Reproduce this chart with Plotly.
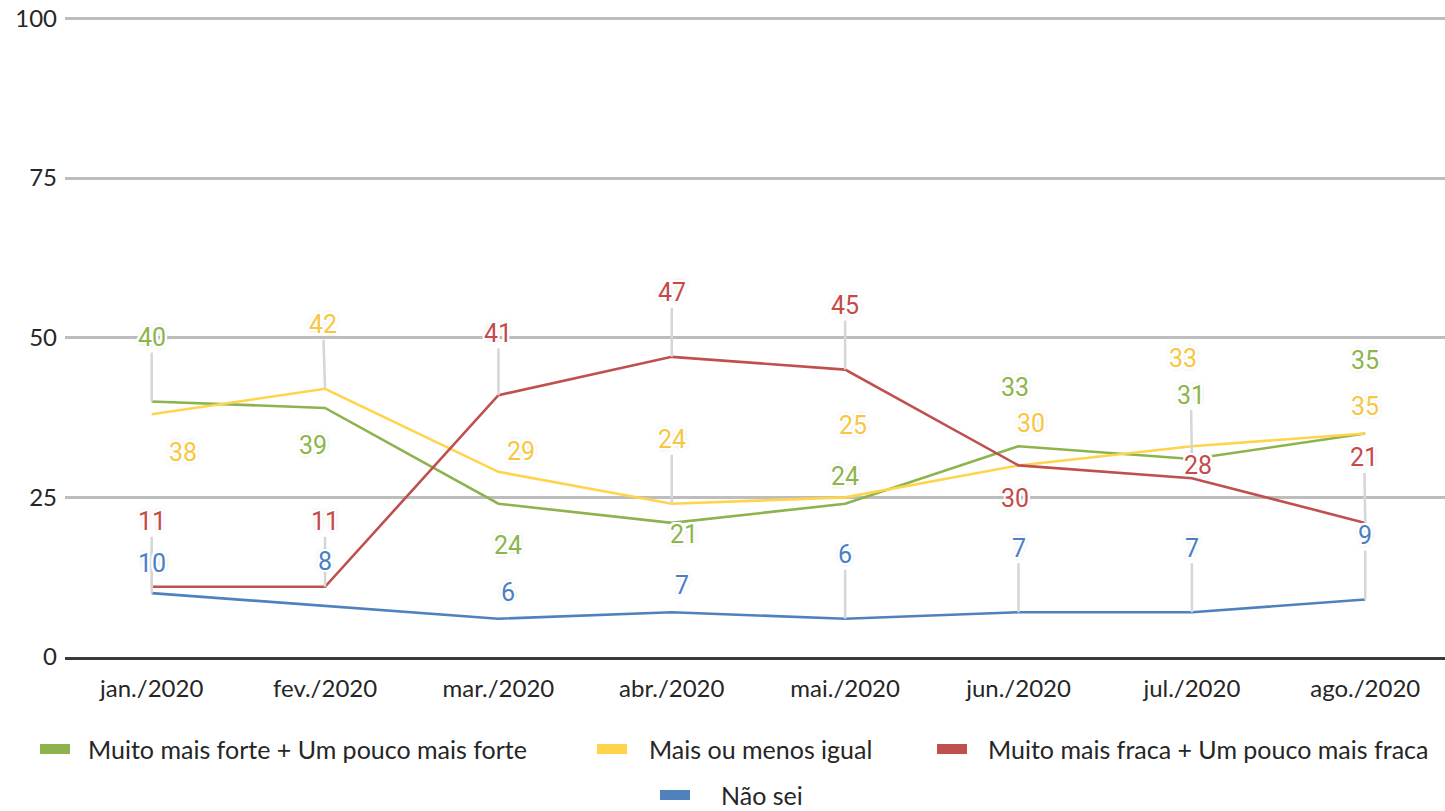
import plotly.graph_objects as go

# ---------------- data ----------------
months = ["jan./2020", "fev./2020", "mar./2020", "abr./2020",
          "mai./2020", "jun./2020", "jul./2020", "ago./2020"]
forte = [40, 39, 24, 21, 24, 33, 31, 35]
igual = [38, 42, 29, 24, 25, 30, 33, 35]
fraca = [11, 11, 41, 47, 45, 30, 28, 21]
nao_sei = [10, 8, 6, 7, 6, 7, 7, 9]

names = ["Muito mais forte + Um pouco mais forte", "Mais ou menos igual",
         "Muito mais fraca + Um pouco mais fraca", "Não sei"]
y_ticks = [0, 25, 50, 75, 100]

# ---------------- styling ----------------
line_colors = ["#8db34e", "#ffd44d", "#c0504d", "#4f81bd"]
label_colors = ["#8cb54c", "#f7c743", "#c44b48", "#4a7fc4"]

# label offsets in screen pixels (dx, dy: + is down) and whether a leader line is drawn
label_pos = [
    [(0, -64, 1), (-12, 38, 0), (10, 42, 0), (12, 12, 0), (0, -27, 0), (-4, -59, 0), (-1, -64, 1), (0, -73, 0)],
    [(31, 38, 0), (-2, -64, 1), (23, -20, 0), (0, -64, 1), (8, -72, 0), (12, -42, 0), (-9, -88, 0), (0, -27, 0)],
    [(0, -65, 1), (0, -65, 1), (0, -62, 1), (0, -64, 1), (0, -64, 1), (-4, 33, 0), (6, -13, 0), (-1, -65, 1)],
    [(0, -30, 1), (0, -44, 0), (10, -26, 0), (10, -27, 0), (0, -64, 1), (0, -64, 1), (0, -64, 1), (0, -64, 1)],
]

W, H = 1445, 811
L, R, T, B = 65, 0, 12, 154
PW, PH = W - L - R, H - T - B

def px_x(p):
    return (p - L) / PW

def px_y(p):
    return (H - B - p) / PH

halo = ("-2px -2px 0 #fff, 2px -2px 0 #fff, -2px 2px 0 #fff, 2px 2px 0 #fff, "
        "0 -2px 0 #fff, 0 2px 0 #fff, -2px 0 0 #fff, 2px 0 0 #fff, "
        "0 0 5px #a8a8a8")

series = [forte, igual, fraca, nao_sei]

fig = go.Figure()
for vals, name, col in zip(series, names, line_colors):
    fig.add_trace(go.Scatter(x=months, y=vals, name=name, mode="lines",
                             line=dict(color=col, width=2.6),
                             showlegend=False, hoverinfo="skip"))

annotations = []
for s, vals in enumerate(series):
    for i, v in enumerate(vals):
        dx, dy, lead = label_pos[s][i]
        base = dict(x=months[i], y=v, xref="x", yref="y", text=str(v),
                    font=dict(family="Roboto", size=25, color=label_colors[s], shadow=halo))
        if lead:
            base.update(showarrow=True, arrowhead=0, arrowwidth=2.5,
                        arrowcolor="#d6d6d6", ax=dx, ay=dy, standoff=0, borderpad=0)
        else:
            base.update(showarrow=False, xshift=dx, yshift=-dy)
        annotations.append(base)

# custom legend (row 1 and centred row 2), page pixel positions
legend_items = [
    (40, 749, 87), (597, 749, 648), (937, 749, 987), (660, 795, 720)
]
shapes = []
for (sx, sy, tx), name, col in zip(legend_items, names, line_colors):
    shapes.append(dict(type="rect", xref="paper", yref="paper",
                       x0=px_x(sx), x1=px_x(sx + 30), y0=px_y(sy + 5), y1=px_y(sy - 5),
                       fillcolor=col, line=dict(width=0)))
    annotations.append(dict(x=px_x(tx), y=px_y(sy), xref="paper", yref="paper",
                            text=name, showarrow=False, xanchor="left", yanchor="middle",
                            borderpad=0,
                            font=dict(family="Lato", size=25, color="#262626")))

fig.update_layout(
    width=W, height=H,
    margin=dict(l=L, r=R, t=T, b=B),
    paper_bgcolor="white", plot_bgcolor="white",
    xaxis=dict(type="category", categoryorder="array", categoryarray=months,
               range=[-0.5, 7.46], showgrid=False, showline=True,
               linecolor="#3a3a3a", linewidth=2.5, ticks="",
               ticklabelstandoff=8, automargin=False,
               tickfont=dict(family="Lato", size=24, color="#262626")),
    yaxis=dict(range=[0, 101], tickvals=y_ticks, showgrid=True,
               gridcolor="#bdbdbd", gridwidth=2.5, zeroline=False,
               showline=False, ticks="", ticklabelstandoff=7,
               ticklabeloverflow="allow", automargin=False,
               tickfont=dict(family="Lato", size=24, color="#262626")),
    annotations=annotations,
    shapes=shapes,
)

fig.write_html("out.html",
               config={"displayModeBar": False},
               post_script="document.body.style.margin='0';"
                           "document.body.style.overflow='hidden';")
